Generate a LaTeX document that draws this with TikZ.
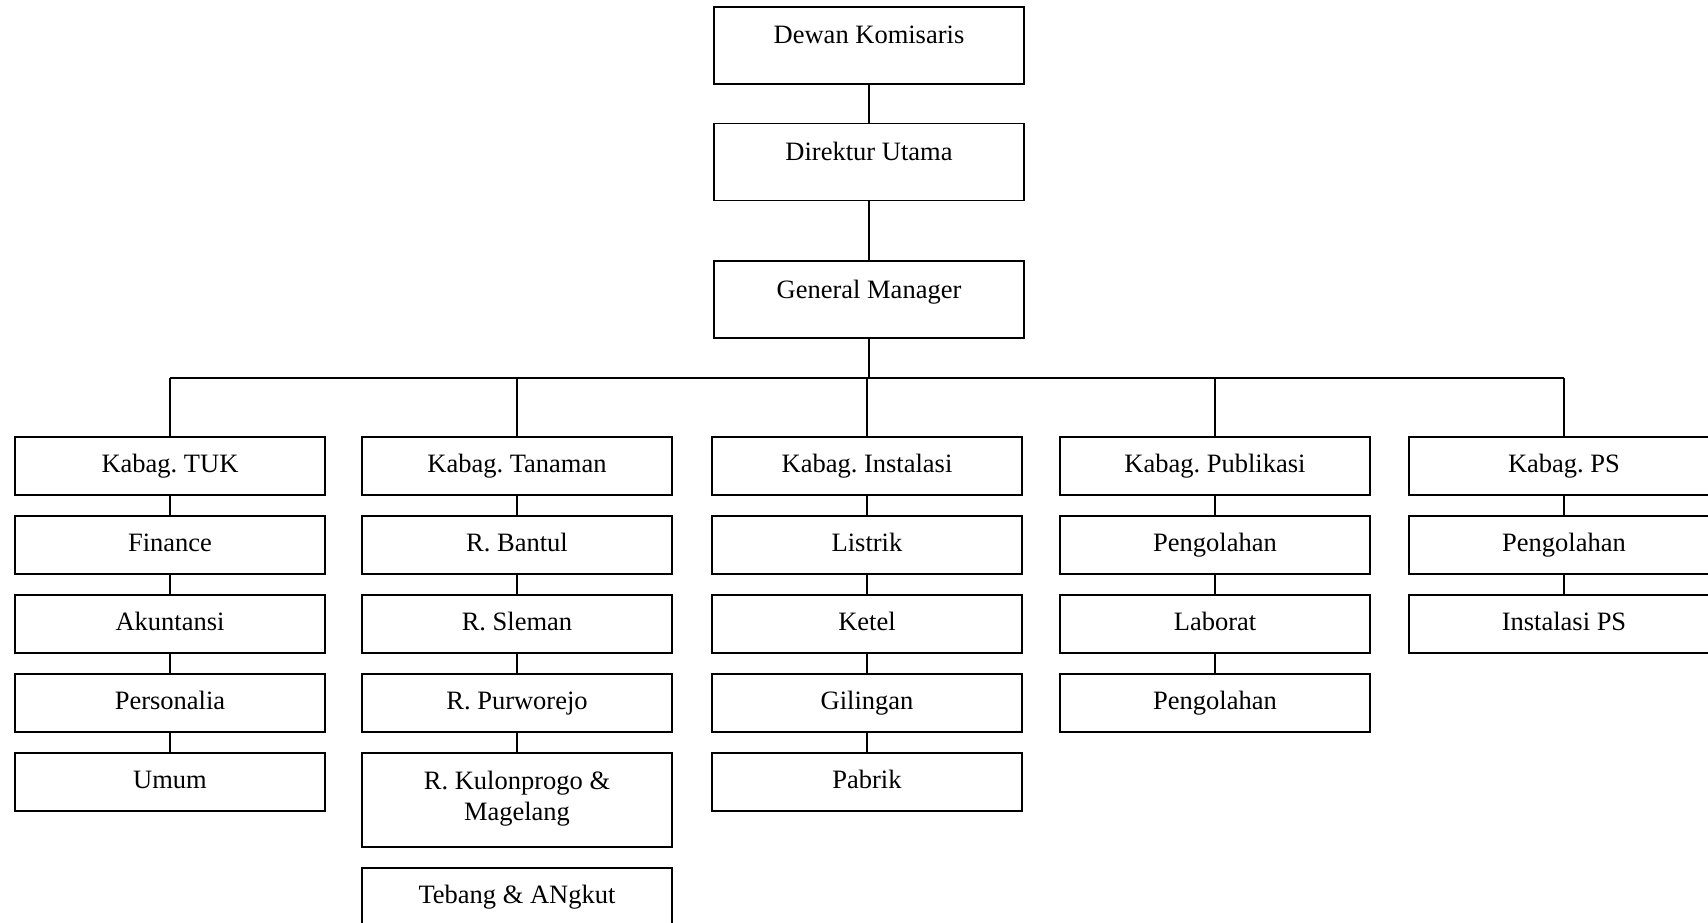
\documentclass[tikz,border=0pt]{standalone}
\usepackage{fontspec}
\setmainfont{Liberation Serif}
\usetikzlibrary{positioning}
\frenchspacing

\tikzset{
  unit/.style={draw, line width=1.6pt, minimum width=310pt, minimum height=58pt,
    inner sep=0pt, align=center, text height=19pt, text depth=6pt,
    font=\fontsize{26.5}{31}\selectfont},
  topunit/.style={unit, text height=37pt, text depth=40pt},
  link/.style={line width=1.6pt}
}

\begin{document}
\begin{tikzpicture}[x=1pt, y=-1pt, node distance=19.4pt]
    \useasboundingbox (0,0) rectangle (1708,923);
    \clip (0,0) rectangle (1708,923);

    % top of the chart
    \node[topunit] (dk) at (869,45.5) {Dewan Komisaris};
    \node[topunit] (du) at (869,162) {Direktur Utama};
    \node[topunit] (gm) at (869,299.5) {General Manager};
    \draw[link] (dk.south) -- (du.north);
    \draw[link] (du.south) -- (gm.north);

    % heads of the sections
    \node[unit] (tuk) at (170,466) {Kabag. TUK};
    \node[unit] (tan) at (517,466) {Kabag. Tanaman};
    \node[unit] (ins) at (867,466) {Kabag. Instalasi};
    \node[unit] (pub) at (1215,466) {Kabag. Publikasi};
    \node[unit] (ps) at (1564,466) {Kabag. PS};

    \coordinate (bus) at (0,378);
    \draw[link] (gm.south) -- (gm.south |- bus);
    \draw[link] (tuk.north |- bus) -- (ps.north |- bus);
    \foreach \h in {tuk,tan,ins,pub,ps}
      \draw[link] (\h.north |- bus) -- (\h.north);

    % Kabag. TUK
    \node[unit, below=of tuk] (fin) {Finance};
    \node[unit, below=of fin] (aku) {Akuntansi};
    \node[unit, below=of aku] (per) {Personalia};
    \node[unit, below=of per] (umu) {Umum};

    % Kabag. Tanaman
    \node[unit, below=of tan] (bnt) {R. Bantul};
    \node[unit, below=of bnt] (slm) {R. Sleman};
    \node[unit, below=of slm] (pwr) {R. Purworejo};
    \node[unit, below=of pwr, minimum height=94pt, text height=, text depth=8pt] (klp) {R. Kulonprogo \&\\ Magelang};
    \node[unit, below=of klp] (tba) {Tebang \& ANgkut};

    % Kabag. Instalasi
    \node[unit, below=of ins] (lis) {Listrik};
    \node[unit, below=of lis] (ket) {Ketel};
    \node[unit, below=of ket] (gil) {Gilingan};
    \node[unit, below=of gil] (pab) {Pabrik};

    % Kabag. Publikasi
    \node[unit, below=of pub] (pgA) {Pengolahan};
    \node[unit, below=of pgA] (lab) {Laborat};
    \node[unit, below=of lab] (pgB) {Pengolahan};

    % Kabag. PS
    \node[unit, below=of ps] (pgC) {Pengolahan};
    \node[unit, below=of pgC] (ips) {Instalasi PS};

    \foreach \a/\b in {tuk/fin,fin/aku,aku/per,per/umu,
                       tan/bnt,bnt/slm,slm/pwr,pwr/klp,
                       ins/lis,lis/ket,ket/gil,gil/pab,
                       pub/pgA,pgA/lab,lab/pgB,
                       ps/pgC,pgC/ips}
      \draw[link] (\a.south) -- (\b.north);
\end{tikzpicture}
\end{document}
